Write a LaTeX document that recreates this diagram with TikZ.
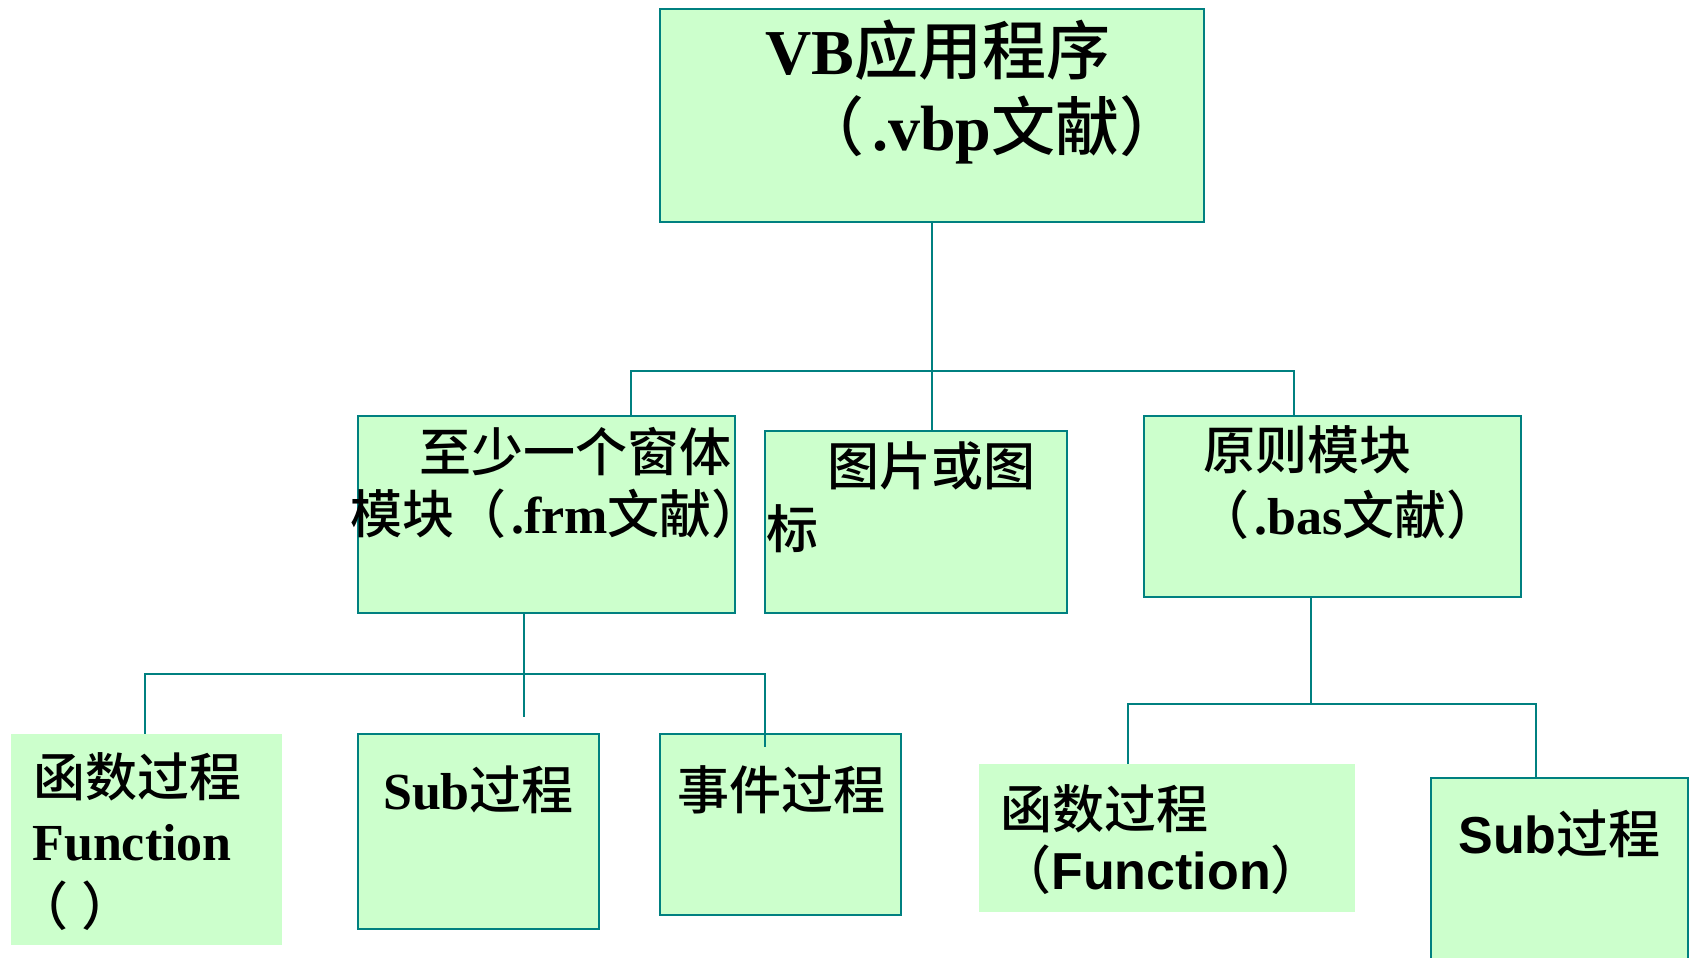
\documentclass[tikz,border=0pt]{standalone}
\usepackage{fontspec}
\setmainfont{Liberation Serif}
\newfontfamily\cjkfont{Noto Sans CJK SC}[BoldFont={* Medium},RawFeature=-chws]
\newfontfamily\arialfont{Liberation Sans}
\newcommand{\zh}[1]{{\cjkfont #1}}
\definecolor{boxfill}{HTML}{CCFFCC}
\definecolor{boxline}{HTML}{008080}

\begin{document}
\begin{tikzpicture}[x=1pt,y=-1pt,
	box/.style={rectangle,draw=boxline,line width=2.5pt,fill=boxfill,inner sep=0pt},
	plain/.style={rectangle,fill=boxfill,inner sep=0pt},
	big/.style={inner sep=0pt,font=\fontsize{64}{72}\selectfont\bfseries},
	mid/.style={inner sep=0pt,font=\fontsize{52}{60}\selectfont\bfseries},
	wire/.style={draw=boxline,line width=2pt}]
		\clip (0,0) rectangle (1690,958);
		
		% boxes
		\node[box,minimum width=544pt,minimum height=213pt] (app) at (932,115.5) {};
		\node[box,minimum width=377pt,minimum height=197pt] (form) at (546.5,514.5) {};
		\node[box,minimum width=302pt,minimum height=182pt] (pic) at (916,522) {};
		\node[box,minimum width=377pt,minimum height=181pt] (bas) at (1332.5,506.5) {};
		\node[plain,minimum width=271pt,minimum height=211pt] (func) at (146.5,839.5) {};
		\node[box,minimum width=241pt,minimum height=195pt] (sub) at (478.5,831.5) {};
		\node[box,minimum width=241pt,minimum height=181pt] (event) at (780.5,824.5) {};
		\node[plain,minimum width=376pt,minimum height=148pt] (func2) at (1167,838) {};
		\node[box,minimum width=257pt,minimum height=197pt] (sub2) at (1559.5,876.5) {};
		
		% texts
		\node[big] (appa) at (938,50) {VB\zh{应用程序}};
		\node[big] (appb) at (992,130) {\zh{（}\hspace{0.12em}.vbp\zh{文献）}};
		\node[mid] (forma) at (575,452) {\zh{至少一个窗体}};
		\node[mid] (formb) at (557,514) {\zh{模块（}\hspace{0.1em}.frm\zh{文献）}};
		\node[mid] (pica) at (931.5,466) {\zh{图片或图}};
		\node[mid] (picb) at (792,529) {\zh{标}};
		\node[mid] (basa) at (1307,450) {\zh{原则模块}};
		\node[mid] (basb) at (1348,515) {\zh{（}\hspace{0.1em}.bas\zh{文献）}};
		\node[mid] (funca) at (137.5,777) {\zh{函数过程}};
		\node[mid] (funcb) at (132,843) {Function};
		\node[mid] (funcc) at (75,906) {\zh{（}\hspace{0.25em}\zh{）}};
		\node[mid] (suba) at (478.5,790) {Sub\zh{过程}};
		\node[mid] (eventa) at (781.5,790) {\zh{事件过程}};
		\node[mid] (func2a) at (1104.5,809) {\zh{函数过程}};
		\node[mid] (func2b) at (1161,870) {\zh{（}{\arialfont Function}\zh{）}};
		\node[mid] (sub2a) at (1559.5,834) {{\arialfont Sub}\zh{过程}};
		
		% bus points
		\coordinate (busa) at (631,371);
		\coordinate (busb) at (1294,371);
		\coordinate (busc) at (145,674);
		\coordinate (busd) at (765,674);
		\coordinate (stub) at (524,717);
		\coordinate (evtin) at (765,747);
		\coordinate (basdrop) at (1311,704);
		\coordinate (buse) at (1128,704);
		\coordinate (busf) at (1536,704);
		
		\draw[wire] (app.south) -- (app.south |- pic.north);
		\draw[wire] (busa |- form.north) -- (busa) -- (busb) -- (busb |- bas.north);
		\draw[wire] (stub |- form.south) -- (stub);
		\draw[wire] (busc |- func.north) -- (busc) -- (busd) -- (evtin);
		\draw[wire] (basdrop |- bas.south) -- (basdrop);
		\draw[wire] (buse |- func2.north) -- (buse) -- (busf) -- (busf |- sub2.north);
\end{tikzpicture}
\end{document}
